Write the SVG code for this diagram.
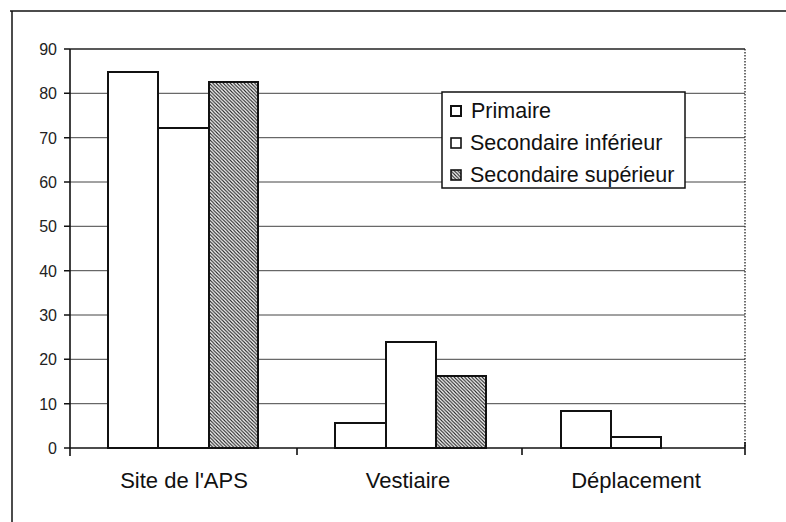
<svg xmlns="http://www.w3.org/2000/svg" width="786" height="522" viewBox="0 0 786 522">
<defs>
<pattern id="hatch" patternUnits="userSpaceOnUse" width="3.5" height="3.5">
<rect width="3.5" height="3.5" fill="#fff"/>
<path d="M-1,-1 L4.5,4.5 M-1,2.5 L1,4.5 M2.5,-1 L4.5,1" stroke="#222" stroke-width="1.1"/>
</pattern>
</defs>
<style>
.frame{stroke:#111;stroke-width:1.5;fill:none}
.grid{stroke:#444;stroke-width:1}
.axis{stroke:#111;stroke-width:1.6;fill:none}
.bar{stroke:#111;stroke-width:2}
.white{fill:#fff}
.hatched{fill:url(#hatch)}
.ylab{font-family:"Liberation Sans",Arial,sans-serif;font-size:16px;fill:#222;text-anchor:end}
.cat{font-family:"Liberation Sans",Arial,sans-serif;font-size:22px;fill:#111;text-anchor:middle}
.leg{font-family:"Liberation Sans",Arial,sans-serif;font-size:21.5px;fill:#111}
</style>
<rect width="786" height="522" fill="#fff"/>
<g id="frame">
<line class="frame" x1="10" y1="11" x2="786" y2="11"/>
<line class="frame" x1="12" y1="11" x2="12" y2="522"/>
</g>
<g id="gridlines">
<line class="grid" x1="70" y1="93.3" x2="745" y2="93.3"/>
<line class="grid" x1="70" y1="137.7" x2="745" y2="137.7"/>
<line class="grid" x1="70" y1="182" x2="745" y2="182"/>
<line class="grid" x1="70" y1="226.3" x2="745" y2="226.3"/>
<line class="grid" x1="70" y1="270.7" x2="745" y2="270.7"/>
<line class="grid" x1="70" y1="315" x2="745" y2="315"/>
<line class="grid" x1="70" y1="359.3" x2="745" y2="359.3"/>
<line class="grid" x1="70" y1="403.7" x2="745" y2="403.7"/>
<line x1="70" y1="49" x2="745" y2="49" stroke="#222" stroke-width="1.3"/>
<line x1="745" y1="49" x2="745" y2="448" stroke="#222" stroke-width="1.3" stroke-dasharray="1.5 1.5"/>
</g>
<g id="axes">
<line class="axis" x1="70" y1="49" x2="70" y2="456"/>
<line class="axis" x1="64" y1="448" x2="745" y2="448"/>
<path class="axis" d="M64,49H70M64,93.3H70M64,137.7H70M64,182H70M64,226.3H70M64,270.7H70M64,315H70M64,359.3H70M64,403.7H70M297,448V455M522,448V455M745,442V455"/>
<text class="ylab" x="57" y="55">90</text>
<text class="ylab" x="57" y="99.3">80</text>
<text class="ylab" x="57" y="143.7">70</text>
<text class="ylab" x="57" y="188">60</text>
<text class="ylab" x="57" y="232.3">50</text>
<text class="ylab" x="57" y="276.7">40</text>
<text class="ylab" x="57" y="321">30</text>
<text class="ylab" x="57" y="365.3">20</text>
<text class="ylab" x="57" y="409.7">10</text>
<text class="ylab" x="57" y="454">0</text>
</g>
<g id="site-aps">
<rect class="bar white" x="108" y="72" width="50" height="376"/>
<rect class="bar white" x="158" y="128" width="51" height="320"/>
<rect class="bar hatched" x="209" y="82" width="49" height="366"/>
<text class="cat" x="184" y="488">Site de l'APS</text>
</g>
<g id="vestiaire">
<rect class="bar white" x="335" y="423" width="51" height="25"/>
<rect class="bar white" x="386" y="342" width="50" height="106"/>
<rect class="bar hatched" x="436" y="376" width="50" height="72"/>
<text class="cat" x="408" y="488">Vestiaire</text>
</g>
<g id="deplacement">
<rect class="bar white" x="561" y="411" width="50" height="37"/>
<rect class="bar white" x="611" y="437" width="50" height="11"/>
<text class="cat" x="636" y="488">Déplacement</text>
</g>
<g id="legend">
<rect x="442" y="92" width="243" height="96" fill="#fff" stroke="#111" stroke-width="1.5"/>
<rect x="451" y="106" width="10" height="10" fill="#fff" stroke="#111" stroke-width="2"/>
<text class="leg" x="471" y="118">Primaire</text>
<rect x="451" y="138" width="10" height="10" fill="#fff" stroke="#111" stroke-width="1.6"/>
<text class="leg" x="470" y="150">Secondaire inférieur</text>
<rect x="451" y="170" width="10" height="10" fill="url(#hatch)" stroke="#111" stroke-width="1.6"/>
<text class="leg" x="470" y="182">Secondaire supérieur</text>
</g>
</svg>
